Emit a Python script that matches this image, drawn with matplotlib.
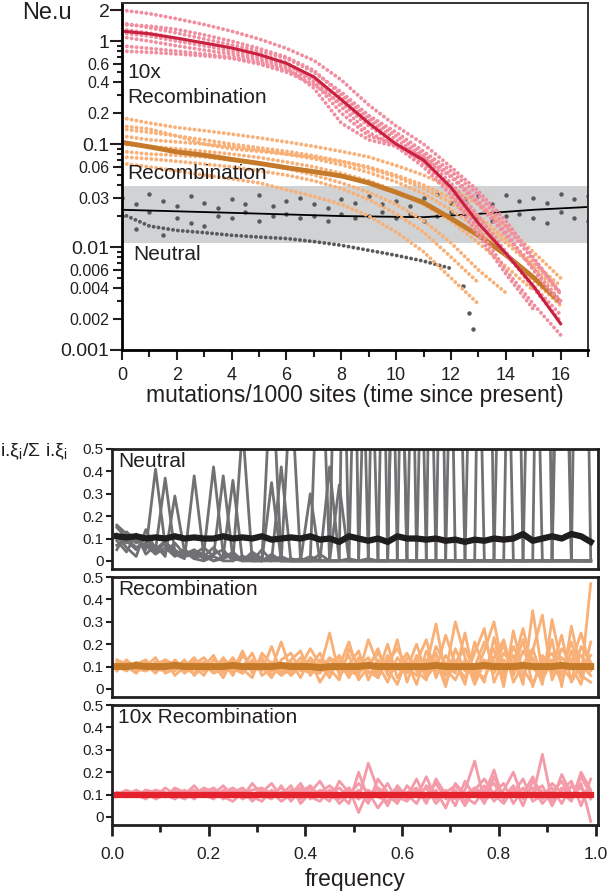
import numpy as np
import matplotlib.pyplot as plt

plt.rcParams['font.family'] = ['Liberation Sans', 'DejaVu Sans']
plt.rcParams['mathtext.default'] = 'regular'

# ---------------- top panel: Ne.u through time ----------------
t = np.arange(17)             # mutations/1000 sites
t_half = np.arange(0, 17.5, 0.5)

# 10x recombination replicates (pink dots) and their mean (dark red)
pink_reps = [
    [2.0, 1.85, 1.65, 1.45, 1.25, 1.05, 0.85, 0.65, 0.42, 0.24, 0.15, 0.10, 0.060, 0.035, 0.018, 0.008, 0.0035],
    [1.45, 1.40, 1.30, 1.15, 1.00, 0.85, 0.70, 0.52, 0.30, 0.18, 0.12, 0.08, 0.050, 0.028, 0.014, 0.006, 0.0028],
    [1.30, 1.20, 1.05, 0.95, 0.85, 0.75, 0.62, 0.40, 0.20, 0.12, 0.10, 0.075, 0.042, 0.020, 0.009, 0.004, 0.0019],
    [1.10, 1.00, 0.90, 0.82, 0.75, 0.66, 0.55, 0.35, 0.16, 0.11, 0.095, 0.065, 0.035, 0.015, 0.006, 0.0028, 0.0014],
    [0.80, 0.78, 0.75, 0.72, 0.68, 0.60, 0.50, 0.38, 0.25, 0.15, 0.10, 0.068, 0.040, 0.019, 0.0085, 0.0042, 0.0022],
    [0.90, 0.85, 0.80, 0.75, 0.70, 0.62, 0.52, 0.42, 0.28, 0.17, 0.11, 0.075, 0.048, 0.026, 0.013, 0.0062, 0.0030],
    [1.50, 1.35, 1.20, 1.05, 0.92, 0.80, 0.68, 0.50, 0.32, 0.19, 0.13, 0.085, 0.055, 0.032, 0.016, 0.0075, 0.0036],
    [1.20, 1.12, 1.00, 0.90, 0.80, 0.70, 0.58, 0.44, 0.23, 0.13, 0.095, 0.060, 0.032, 0.013, 0.0055, 0.0025],
]
pink_mean = [1.25, 1.18, 1.07, 0.96, 0.86, 0.74, 0.61, 0.45, 0.27, 0.16, 0.10, 0.07, 0.038, 0.017, 0.0087, 0.0042, 0.0018]

# recombination replicates (orange dots) and their mean (brown)
orange_reps = [
    [0.18, 0.16, 0.145, 0.135, 0.125, 0.115, 0.105, 0.095, 0.085, 0.075, 0.062, 0.050, 0.038, 0.026, 0.016, 0.009, 0.0050],
    [0.14, 0.13, 0.12, 0.11, 0.10, 0.092, 0.085, 0.077, 0.068, 0.058, 0.048, 0.037, 0.027, 0.018, 0.011, 0.0065, 0.0035],
    [0.12, 0.11, 0.105, 0.10, 0.095, 0.088, 0.080, 0.072, 0.063, 0.053, 0.043, 0.033, 0.023, 0.015, 0.0085, 0.0048, 0.0027],
    [0.10, 0.095, 0.09, 0.085, 0.08, 0.074, 0.067, 0.060, 0.052, 0.044, 0.035, 0.026, 0.018, 0.011, 0.0065, 0.0038],
    [0.085, 0.08, 0.078, 0.075, 0.07, 0.065, 0.058, 0.050, 0.042, 0.034, 0.026, 0.018, 0.011, 0.006, 0.0036],
    [0.075, 0.072, 0.068, 0.064, 0.06, 0.055, 0.050, 0.044, 0.037, 0.029, 0.021, 0.014, 0.008, 0.0045],
    [0.065, 0.06, 0.055, 0.05, 0.046, 0.042, 0.036, 0.031, 0.026, 0.020, 0.014, 0.009, 0.005, 0.0028],
    [0.15, 0.14, 0.12, 0.10, 0.09, 0.085, 0.080, 0.075, 0.068, 0.060, 0.050, 0.040, 0.030, 0.020, 0.012, 0.007, 0.0042],
]
orange_mean = [0.104, 0.094, 0.084, 0.078, 0.071, 0.065, 0.059, 0.054, 0.049, 0.042, 0.034, 0.027, 0.019, 0.013, 0.0084, 0.0051, 0.0029]

# neutral replicates (grey dots) and their mean (black)
grey_low = [0.021, 0.016, 0.0145, 0.0138, 0.013, 0.0125, 0.0121, 0.0113, 0.0104, 0.0093, 0.0083, 0.0073, 0.0062]
grey_high = [0.030, 0.026, 0.033, 0.028, 0.025, 0.031, 0.027, 0.024, 0.029, 0.026,
             0.032, 0.025, 0.028, 0.030, 0.026, 0.024, 0.029, 0.027, 0.031, 0.026,
             0.028, 0.025, 0.030, 0.033, 0.027, 0.029, 0.031, 0.026, 0.032, 0.028,
             0.030, 0.027, 0.033, 0.029, 0.031]
grey_mid = [0.020, 0.015, 0.022, 0.013, 0.019, 0.017, 0.016, 0.020, 0.019, 0.022,
            0.018, 0.020, 0.021, 0.019, 0.020, 0.018, 0.021, 0.019, 0.020, 0.022,
            0.019, 0.021, 0.018, 0.020, 0.022, 0.021, 0.019, 0.018, 0.020, 0.021,
            0.019, 0.017, 0.022, 0.019, 0.018]
grey_out_t = [12.45, 12.65, 12.8]
grey_out = [0.0042, 0.0023, 0.0016]
grey_mean_t = [0, 4, 8, 11, 13, 15, 17]
grey_mean = [0.023, 0.0215, 0.020, 0.0195, 0.021, 0.023, 0.0245]

band = (0.011, 0.039)

# ---------------- bottom panels: normalised spectra ----------------
freq = np.arange(0.01, 1.0, 0.02)   # 50 frequency bins

neutral_reps = [
    [0.15, 0.10, 0.06, 0.08, 0.05, 0.37, 0.04, 0.02, 0.03, 0.06,
     0.02, 0.38, 0.01, 0.00, 0.02, 0.00, 0.90, 0.00, 0.01, 0.00,
     0.00, 0.03, 0.00, 2.00, 0.00, 0.00, 0.01, 0.00, 0.00, 0.00,
     2.50, 0.00, 0.00, 0.00, 0.00, 0.00, 0.00, 0.00, 3.00, 0.00,
     0.00, 0.00, 0.00, 0.00, 0.00, 0.00, 3.00, 0.00, 0.00, 0.00],
    [0.12, 0.08, 0.11, 0.05, 0.41, 0.07, 0.03, 0.05, 0.02, 0.04,
     0.42, 0.03, 0.01, 0.02, 0.00, 0.05, 0.00, 0.00, 0.80, 0.00,
     0.02, 0.00, 0.00, 0.34, 0.00, 0.00, 1.50, 0.00, 0.00, 0.00,
     0.00, 0.00, 2.00, 0.00, 0.00, 0.00, 0.00, 0.00, 0.00, 0.00,
     0.00, 2.50, 0.00, 0.00, 0.00, 0.00, 0.00, 0.00, 0.00, 0.00],
    [0.05, 0.13, 0.09, 0.07, 0.03, 0.06, 0.02, 0.05, 0.01, 0.03,
     0.00, 0.02, 0.36, 0.00, 0.03, 0.00, 0.00, 0.42, 0.00, 0.00,
     0.00, 1.20, 0.00, 0.00, 0.01, 0.00, 0.00, 0.00, 0.00, 2.00,
     0.00, 0.00, 0.00, 0.00, 0.00, 2.00, 0.00, 0.00, 0.00, 0.00,
     0.00, 0.00, 0.00, 0.00, 3.00, 0.00, 0.00, 0.00, 0.00, 0.00],
    [0.09, 0.04, 0.12, 0.03, 0.07, 0.02, 0.29, 0.04, 0.01, 0.00,
     0.02, 0.00, 0.00, 0.60, 0.00, 0.00, 0.03, 0.00, 0.00, 0.00,
     0.30, 0.00, 0.00, 0.00, 0.00, 1.80, 0.00, 0.00, 2.20, 0.00,
     0.00, 0.00, 0.00, 0.00, 0.00, 0.00, 0.00, 2.00, 0.00, 0.00,
     0.00, 0.00, 0.00, 0.00, 0.00, 0.00, 0.00, 0.00, 2.80, 0.00],
    [0.11, 0.06, 0.02, 0.14, 0.05, 0.09, 0.03, 0.01, 0.38, 0.02,
     0.00, 0.01, 0.04, 0.00, 0.00, 0.00, 0.02, 0.00, 0.00, 0.00,
     0.00, 0.00, 0.00, 0.00, 3.00, 0.00, 0.00, 2.50, 0.00, 0.00,
     0.00, 2.00, 0.00, 0.00, 0.00, 0.00, 0.00, 0.00, 0.00, 0.00,
     2.00, 0.00, 0.00, 0.00, 0.00, 0.00, 0.00, 0.00, 0.00, 0.00],
    [0.16, 0.12, 0.08, 0.10, 0.06, 0.04, 0.08, 0.03, 0.05, 0.02,
     0.06, 0.01, 0.03, 0.00, 0.04, 0.01, 0.00, 0.02, 0.00, 0.00,
     0.00, 0.00, 0.42, 0.00, 0.00, 0.00, 0.00, 0.00, 0.00, 0.00,
     0.00, 0.00, 0.00, 3.00, 0.00, 0.00, 0.00, 0.00, 0.00, 0.00,
     0.00, 0.00, 0.00, 2.00, 0.00, 0.00, 0.00, 0.00, 0.00, 0.00],
    [0.07, 0.09, 0.05, 0.11, 0.04, 0.08, 0.05, 0.02, 0.04, 0.01,
     0.03, 0.05, 0.00, 0.02, 0.01, 0.00, 0.35, 0.00, 0.00, 0.01,
     0.00, 0.00, 0.00, 0.00, 0.00, 0.00, 0.00, 0.00, 0.00, 2.00,
     0.00, 0.00, 0.00, 0.00, 2.50, 0.00, 0.00, 0.00, 0.00, 0.00,
     0.00, 0.00, 0.00, 0.00, 0.00, 0.00, 2.00, 0.00, 0.00, 0.00],
]
neutral_mean = [0.110, 0.105, 0.110, 0.100, 0.105, 0.100, 0.110, 0.100, 0.105, 0.100,
                0.100, 0.110, 0.100, 0.105, 0.100, 0.110, 0.095, 0.100, 0.105, 0.100,
                0.110, 0.095, 0.100, 0.085, 0.110, 0.100, 0.090, 0.100, 0.085, 0.110,
                0.100, 0.100, 0.095, 0.100, 0.090, 0.095, 0.085, 0.095, 0.090, 0.100,
                0.095, 0.100, 0.120, 0.090, 0.100, 0.110, 0.100, 0.120, 0.110, 0.085]

recomb_reps = [
    [0.12, 0.09, 0.11, 0.13, 0.08, 0.10, 0.12, 0.07, 0.11, 0.14,
     0.09, 0.12, 0.06, 0.15, 0.10, 0.08, 0.19, 0.07, 0.12, 0.05,
     0.14, 0.09, 0.25, 0.06, 0.11, 0.17, 0.04, 0.13, 0.08, 0.22,
     0.03, 0.15, 0.10, 0.29, 0.06, 0.12, 0.02, 0.21, 0.09, 0.18,
     0.01, 0.26, 0.07, 0.14, 0.02, 0.31, 0.10, 0.04, 0.19, 0.12],
    [0.09, 0.12, 0.08, 0.10, 0.14, 0.07, 0.09, 0.13, 0.06, 0.10,
     0.15, 0.07, 0.12, 0.09, 0.05, 0.16, 0.11, 0.08, 0.13, 0.17,
     0.06, 0.12, 0.09, 0.04, 0.18, 0.10, 0.14, 0.07, 0.20, 0.05,
     0.12, 0.02, 0.17, 0.08, 0.24, 0.11, 0.05, 0.16, 0.27, 0.03,
     0.13, 0.08, 0.22, 0.01, 0.15, 0.09, 0.24, 0.03, 0.11, 0.06],
    [0.10, 0.08, 0.12, 0.09, 0.11, 0.13, 0.06, 0.10, 0.14, 0.08,
     0.11, 0.05, 0.13, 0.10, 0.16, 0.06, 0.09, 0.21, 0.08, 0.11,
     0.13, 0.03, 0.10, 0.15, 0.08, 0.06, 0.22, 0.11, 0.03, 0.14,
     0.09, 0.20, 0.06, 0.13, 0.01, 0.18, 0.08, 0.10, 0.03, 0.23,
     0.06, 0.15, 0.02, 0.35, 0.07, 0.12, 0.03, 0.17, 0.05, 0.47],
    [0.11, 0.10, 0.07, 0.12, 0.09, 0.08, 0.13, 0.09, 0.07, 0.12,
     0.08, 0.14, 0.09, 0.07, 0.12, 0.10, 0.05, 0.13, 0.16, 0.08,
     0.10, 0.16, 0.07, 0.12, 0.05, 0.14, 0.09, 0.18, 0.06, 0.10,
     0.16, 0.08, 0.04, 0.19, 0.11, 0.07, 0.25, 0.04, 0.13, 0.09,
     0.20, 0.03, 0.11, 0.18, 0.05, 0.22, 0.01, 0.28, 0.08, 0.15],
    [0.13, 0.11, 0.10, 0.08, 0.12, 0.11, 0.08, 0.12, 0.10, 0.06,
     0.13, 0.10, 0.08, 0.17, 0.07, 0.12, 0.10, 0.06, 0.09, 0.14,
     0.08, 0.07, 0.13, 0.10, 0.21, 0.07, 0.12, 0.05, 0.15, 0.09,
     0.07, 0.12, 0.22, 0.05, 0.15, 0.09, 0.12, 0.06, 0.17, 0.30,
     0.08, 0.12, 0.05, 0.17, 0.33, 0.04, 0.14, 0.10, 0.02, 0.21],
    [0.08, 0.13, 0.09, 0.11, 0.07, 0.12, 0.10, 0.09, 0.13, 0.11,
     0.07, 0.09, 0.14, 0.08, 0.11, 0.13, 0.08, 0.11, 0.06, 0.10,
     0.18, 0.11, 0.05, 0.14, 0.09, 0.12, 0.07, 0.09, 0.12, 0.18,
     0.10, 0.06, 0.13, 0.10, 0.07, 0.30, 0.14, 0.02, 0.12, 0.07,
     0.16, 0.11, 0.27, 0.09, 0.13, 0.07, 0.18, 0.12, 0.25, 0.09],
    [0.10, 0.12, 0.09, 0.08, 0.11, 0.10, 0.09, 0.11, 0.12, 0.08,
     0.10, 0.13, 0.07, 0.11, 0.09, 0.14, 0.06, 0.10, 0.12, 0.09,
     0.07, 0.13, 0.11, 0.08, 0.15, 0.04, 0.10, 0.16, 0.09, 0.02,
     0.14, 0.11, 0.07, 0.16, 0.03, 0.12, 0.18, 0.08, 0.05, 0.14,
     0.22, 0.06, 0.17, 0.10, 0.04, 0.13, 0.08, 0.21, 0.06, 0.03],
    [0.09, 0.10, 0.11, 0.10, 0.08, 0.13, 0.11, 0.08, 0.09, 0.12,
     0.10, 0.08, 0.11, 0.07, 0.13, 0.09, 0.12, 0.09, 0.07, 0.12,
     0.10, 0.08, 0.14, 0.11, 0.07, 0.12, 0.08, 0.05, 0.13, 0.11,
     0.08, 0.14, 0.05, 0.11, 0.09, 0.04, 0.13, 0.10, 0.21, 0.12,
     0.05, 0.19, 0.09, 0.02, 0.12, 0.16, 0.06, 0.11, 0.15, 0.08],
]
recomb_mean = [0.100, 0.100, 0.105, 0.100, 0.100, 0.100, 0.105, 0.100, 0.100, 0.100,
               0.100, 0.100, 0.105, 0.100, 0.100, 0.100, 0.100, 0.105, 0.100, 0.100,
               0.100, 0.095, 0.100, 0.100, 0.100, 0.100, 0.105, 0.100, 0.100, 0.100,
               0.100, 0.100, 0.100, 0.105, 0.100, 0.100, 0.100, 0.100, 0.105, 0.100,
               0.100, 0.100, 0.105, 0.100, 0.100, 0.100, 0.105, 0.100, 0.100, 0.100]

recomb10_reps = [
    [0.10, 0.11, 0.09, 0.12, 0.10, 0.09, 0.13, 0.11, 0.08, 0.12,
     0.10, 0.14, 0.09, 0.12, 0.07, 0.11, 0.15, 0.09, 0.12, 0.08,
     0.13, 0.10, 0.07, 0.16, 0.11, 0.08, 0.24, 0.12, 0.05, 0.14,
     0.09, 0.17, 0.07, 0.12, 0.04, 0.15, 0.10, 0.13, 0.06, 0.18,
     0.09, 0.14, 0.05, 0.16, 0.11, 0.07, 0.19, 0.10, 0.13, 0.08],
    [0.11, 0.09, 0.10, 0.08, 0.12, 0.11, 0.09, 0.10, 0.14, 0.09,
     0.12, 0.08, 0.11, 0.13, 0.09, 0.07, 0.12, 0.10, 0.14, 0.06,
     0.11, 0.16, 0.09, 0.08, 0.13, 0.02, 0.12, 0.09, 0.15, 0.07,
     0.11, 0.13, 0.06, 0.17, 0.10, 0.08, 0.12, 0.25, 0.07, 0.11,
     0.15, 0.06, 0.13, 0.09, 0.28, 0.07, 0.12, 0.16, 0.05, 0.17],
    [0.09, 0.10, 0.12, 0.10, 0.09, 0.13, 0.10, 0.08, 0.11, 0.10,
     0.08, 0.12, 0.10, 0.09, 0.15, 0.10, 0.08, 0.14, 0.07, 0.12,
     0.09, 0.11, 0.14, 0.10, 0.06, 0.20, 0.08, 0.13, 0.10, 0.06,
     0.14, 0.09, 0.18, 0.08, 0.12, 0.05, 0.16, 0.09, 0.14, 0.07,
     0.12, 0.20, 0.08, 0.11, 0.14, 0.05, 0.13, 0.09, 0.15, -0.02],
    [0.10, 0.12, 0.10, 0.11, 0.08, 0.10, 0.12, 0.09, 0.10, 0.13,
     0.11, 0.09, 0.07, 0.11, 0.12, 0.13, 0.09, 0.11, 0.10, 0.15,
     0.08, 0.12, 0.10, 0.13, 0.09, 0.12, 0.06, 0.17, 0.11, 0.09,
     0.07, 0.12, 0.10, 0.15, 0.08, 0.11, 0.07, 0.12, 0.17, 0.10,
     0.06, 0.13, 0.10, 0.18, 0.08, 0.15, 0.11, 0.07, 0.20, 0.12],
    [0.10, 0.09, 0.11, 0.10, 0.12, 0.09, 0.10, 0.12, 0.09, 0.11,
     0.13, 0.10, 0.12, 0.08, 0.10, 0.12, 0.11, 0.07, 0.10, 0.13,
     0.09, 0.07, 0.12, 0.10, 0.13, 0.08, 0.11, 0.04, 0.10, 0.13,
     0.08, 0.10, 0.13, 0.06, 0.11, 0.14, 0.09, 0.06, 0.12, 0.15,
     0.08, 0.11, 0.17, 0.07, 0.10, 0.13, 0.06, 0.14, 0.09, 0.11],
    [0.11, 0.10, 0.09, 0.12, 0.11, 0.10, 0.08, 0.11, 0.12, 0.09,
     0.10, 0.11, 0.13, 0.10, 0.08, 0.12, 0.10, 0.13, 0.09, 0.11,
     0.14, 0.09, 0.12, 0.06, 0.10, 0.15, 0.11, 0.09, 0.07, 0.12,
     0.10, 0.06, 0.14, 0.11, 0.09, 0.12, 0.05, 0.13, 0.10, 0.21,
     0.07, 0.12, 0.09, 0.13, 0.06, 0.11, 0.16, 0.08, 0.18, 0.10],
]
recomb10_mean = [0.100, 0.100, 0.100, 0.100, 0.100, 0.100, 0.100, 0.100, 0.100, 0.100,
                 0.100, 0.100, 0.100, 0.100, 0.100, 0.100, 0.100, 0.100, 0.100, 0.100,
                 0.100, 0.100, 0.100, 0.100, 0.100, 0.100, 0.100, 0.100, 0.100, 0.100,
                 0.100, 0.100, 0.100, 0.100, 0.100, 0.100, 0.100, 0.100, 0.100, 0.100,
                 0.100, 0.100, 0.100, 0.100, 0.100, 0.100, 0.100, 0.100, 0.100, 0.100]

# colours
PINK, RED = '#f08d9f', '#c9203f'
ORANGE, BROWN = '#f8b077', '#c57a2a'
GREY, DARK = '#58595b', '#231f20'

fig = plt.figure(figsize=(6.12, 8.96), dpi=100)

# ---------------- top panel ----------------
ax = fig.add_axes([0.1993, 0.6094, 0.7615, 0.3873])
ax.set_yscale('log')
ax.set_xlim(0, 17)
ax.set_ylim(0.001, 2.35)
ax.axhspan(*band, color='#d1d2d4', lw=0, zorder=0)

dots = dict(linestyle=(0, (0.01, 1.25)), lw=2.8, dash_capstyle='round')
ax.plot(t[:len(grey_low)], grey_low, color=GREY, **dots)
ax.plot(t_half, grey_high, 'o', color=GREY, ms=3.2, mew=0)
ax.plot(t_half, grey_mid, 'o', color=GREY, ms=3.2, mew=0)
ax.plot(grey_out_t, grey_out, 'o', color=GREY, ms=3.2, mew=0)
ax.plot(grey_mean_t, grey_mean, color='black', lw=1.3)

for r in orange_reps:
    ax.plot(t[:len(r)], r, color=ORANGE, **dots)
ax.plot(t, orange_mean, color=BROWN, lw=3.5, solid_capstyle='butt')

for r in pink_reps:
    ax.plot(t[:len(r)], r, color=PINK, **dots)
ax.plot(t, pink_mean, color=RED, lw=2.2)

txt = dict(fontsize=15, va='center', color=DARK)
ax.text(0.2, 0.5, '10x', **txt)
ax.text(0.2, 0.285, 'Recombination', **txt)
ax.text(0.2, 0.052, 'Recombination', **txt)
ax.text(0.4, 0.0084, 'Neutral', **txt)

# y ticks: labelled values as majors, the rest as minors
lab_vals = [0.001, 0.002, 0.004, 0.006, 0.01, 0.03, 0.06, 0.1, 0.2, 0.4, 0.6, 1, 2]
lab_text = ['0.001', '0.002', '0.004', '0.006', '0.01', '0.03', '0.06', '0.1', '0.2', '0.4', '0.6', '1', '2']
big = {0.001, 0.01, 0.1, 1, 2}
minor_vals = [0.003, 0.005, 0.007, 0.008, 0.009, 0.02, 0.04, 0.05, 0.07, 0.08, 0.09,
              0.3, 0.5, 0.7, 0.8, 0.9]
ax.set_yticks(lab_vals)
ax.set_yticklabels(lab_text)
ax.set_yticks(minor_vals, minor=True)
ax.yaxis.set_minor_formatter(plt.NullFormatter())
ax.tick_params(axis='y', which='major', width=1.5, length=6, pad=3, colors=DARK)
ax.tick_params(axis='y', which='minor', width=1.5, length=3.5, color=DARK)
for v, tk in zip(lab_vals, ax.yaxis.get_major_ticks()):
    if v in big:
        tk.tick1line.set_markersize(8.5)
        tk.label1.set_fontsize(14)
    else:
        tk.tick1line.set_markersize(6.5)
        tk.label1.set_fontsize(11.5)

ax.set_xticks(range(0, 17, 2))
ax.set_xticks(range(1, 18, 2), minor=True)
ax.tick_params(axis='x', which='major', width=1.5, length=7, labelsize=13, colors=DARK, pad=5)
ax.tick_params(axis='x', which='minor', width=1.5, length=5, color=DARK)
ax.set_xlabel('mutations/1000 sites (time since present)', fontsize=16.5, color=DARK, labelpad=0)

for side in ['left', 'bottom']:
    ax.spines[side].set_linewidth(2)
    ax.spines[side].set_color('black')
for side in ['top', 'right']:
    ax.spines[side].set_linewidth(1.4)
    ax.spines[side].set_color('#333333')

fig.text(0.036, 0.986, 'Ne.u', fontsize=17, va='center', ha='left', color=DARK)

# ---------------- bottom panels ----------------
bottoms = [0.3650, 0.2221, 0.0792]
panels = [
    (neutral_reps, neutral_mean, '#717174', '#1f1d1e', 'Neutral', 4.5),
    (recomb_reps, recomb_mean, ORANGE, BROWN, 'Recombination', 5.0),
    (recomb10_reps, recomb10_mean, '#f49aa8', '#e3222e', '10x Recombination', 4.5),
]
for i, (b, (reps, mean, c_rep, c_mean, label, mlw)) in enumerate(zip(bottoms, panels)):
    pax = fig.add_axes([0.1830, b, 0.7941, 0.1339])
    for r in reps:
        pax.plot(freq, r, color=c_rep, lw=2.0)
    pax.plot(freq, mean, color=c_mean, lw=mlw)
    pax.set_xlim(0, 1.005)
    pax.set_ylim(-0.036, 0.5)
    pax.set_yticks([0, 0.1, 0.2, 0.3, 0.4, 0.5])
    pax.set_yticklabels(['0', '0.1', '0.2', '0.3', '0.4', '0.5'])
    pax.tick_params(axis='y', width=1.5, length=4, labelsize=11, colors=DARK, pad=2)
    for s in pax.spines.values():
        s.set_linewidth(2)
        s.set_color(DARK)
    pax.text(0.012, 0.445, label, fontsize=15, va='center', ha='left', color=DARK)
    if i < 2:
        pax.set_xticks([])
    else:
        pax.set_xticks([0, 0.2, 0.4, 0.6, 0.8, 1.0])
        pax.set_xticklabels(['0.0', '0.2', '0.4', '0.6', '0.8', '1.0'])
        pax.set_xticks([0.1, 0.3, 0.5, 0.7, 0.9], minor=True)
        pax.tick_params(axis='x', which='major', width=2, length=8, labelsize=12.5, colors=DARK, pad=8)
        pax.tick_params(axis='x', which='minor', width=2, length=5, color=DARK)
        pax.set_xlabel('frequency', fontsize=16.5, color=DARK, labelpad=4)

fig.text(0.0, 0.496, r'i.ξ$_{i}$/Σ i.ξ$_{i}$', fontsize=14, va='center', ha='left', color=DARK)

fig.savefig('out.png', dpi=100)
